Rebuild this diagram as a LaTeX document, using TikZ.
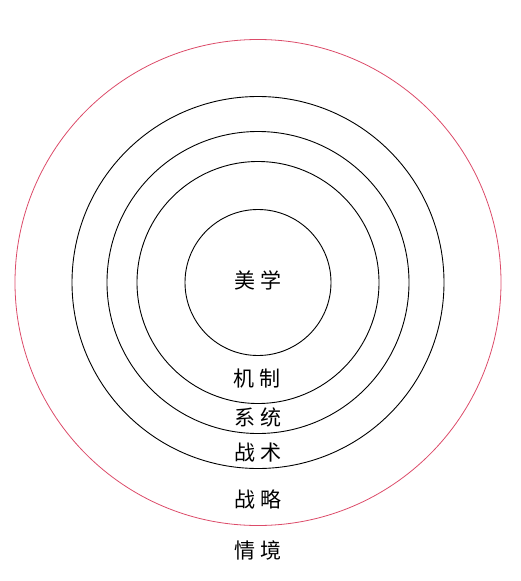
\documentclass[tikz,border=0pt]{standalone}
\usepackage{fontspec}
\newfontfamily\cjk{Noto Sans CJK SC}
\definecolor{ringred}{RGB}{220,75,105}
\begin{document}
\begin{tikzpicture}[x=1pt,y=-1pt,
  ring/.style={draw=black,line width=0.9pt},
  outerring/.style={draw=ringred,line width=0.8pt},
  lbl/.style={font=\cjk\fontsize{21}{23}\selectfont,inner sep=0pt}]
\useasboundingbox (0,0) rectangle (521,581);
\coordinate (c) at (258,282.5);
\draw[outerring] (c) circle[radius=243];
\draw[ring] (c) circle[radius=186];
\draw[ring] (c) circle[radius=151];
\draw[ring] (c) circle[radius=121];
\draw[ring] (c) circle[radius=73];
\node[lbl] (meixue) at (258,280) {美\hspace{6pt}学};
\node[lbl] (jizhi) at (257,379) {机\hspace{6pt}制};
\node[lbl] (xitong) at (258,417.5) {系\hspace{6pt}统};
\node[lbl] (zhanshu) at (258,453) {战\hspace{6pt}术};
\node[lbl] (zhanlue) at (258,499) {战\hspace{6pt}略};
\node[lbl] (qingjing) at (258,550) {情\hspace{6pt}境};
\end{tikzpicture}
\end{document}
